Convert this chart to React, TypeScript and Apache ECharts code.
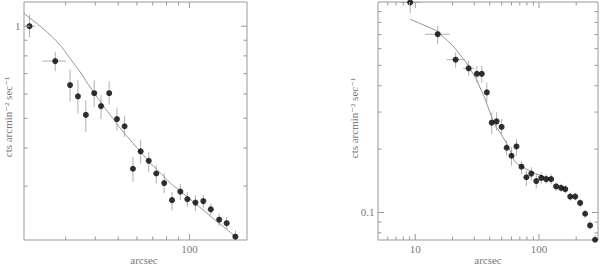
import React, { useEffect, useRef } from "react";
import * as echarts from "echarts";

// ---------- Left panel data ----------
const leftX = [21.1, 27.1, 31.3, 33.8, 36.5, 39.6, 42.3, 45.8, 49.4, 53.2, 57.7, 62.2, 67.3, 72.4, 78.2, 84.4, 91.5, 98.0, 106, 114.4, 123.1, 133.5, 143.6, 156.3];
const leftY = [1.0, 0.769, 0.642, 0.59, 0.513, 0.604, 0.548, 0.604, 0.497, 0.471, 0.342, 0.39, 0.363, 0.33, 0.307, 0.27, 0.288, 0.272, 0.265, 0.268, 0.252, 0.233, 0.227, 0.205];
const leftYLo = [0.92, 0.713, 0.566, 0.518, 0.451, 0.545, 0.497, 0.555, 0.455, 0.435, 0.31, 0.356, 0.334, 0.306, 0.285, 0.25, 0.27, 0.257, 0.249, 0.255, 0.241, 0.222, 0.217, 0.2];
const leftYHi = [1.09, 0.824, 0.722, 0.666, 0.573, 0.666, 0.595, 0.661, 0.542, 0.509, 0.374, 0.424, 0.388, 0.351, 0.331, 0.287, 0.305, 0.287, 0.28, 0.28, 0.263, 0.244, 0.238, 0.215];
const leftXLo: (number | null)[] = [20, 23.9, null, null, null, null, null, null, null, null, null, null, null, null, null, null, null, null, null, null, null, null, null, null];
const leftXHi: (number | null)[] = [22.3, 30.1, null, null, null, null, null, null, null, null, null, null, null, null, null, null, null, null, null, null, null, null, null, null];
const leftModelX = [20, 24.5, 28.4, 31.3, 34.5, 38.0, 42.1, 46.3, 51.1, 56.3, 62.2, 68.6, 75.7, 83.5, 92.0, 101.6, 112, 123.6, 136.3, 154.1, 158];
const leftModelY = [1.1, 0.97, 0.867, 0.784, 0.709, 0.633, 0.566, 0.512, 0.463, 0.424, 0.388, 0.356, 0.33, 0.306, 0.288, 0.27, 0.254, 0.238, 0.224, 0.207, 0.203];

// ---------- Right panel data ----------
const rightX = [9.1, 15.2, 21.2, 27.0, 31.5, 34.5, 37.9, 41.5, 45.5, 49.9, 54.8, 60.0, 65.8, 72.2, 79.1, 86.7, 95.1, 104.3, 114.4, 125.4, 137.5, 150.8, 163.1, 178.9, 196.2, 215.2, 236, 258.8, 284];
const rightY = [0.995, 0.703, 0.532, 0.484, 0.456, 0.456, 0.372, 0.267, 0.271, 0.255, 0.203, 0.186, 0.206, 0.165, 0.147, 0.153, 0.141, 0.146, 0.144, 0.144, 0.133, 0.131, 0.129, 0.119, 0.119, 0.111, 0.0986, 0.0868, 0.0742];
const rightYLo = [0.886, 0.63, 0.488, 0.446, 0.414, 0.414, 0.333, 0.236, 0.245, 0.236, 0.186, 0.167, 0.186, 0.152, 0.134, 0.142, 0.13, 0.137, 0.137, 0.136, 0.127, 0.125, 0.123, 0.114, 0.114, 0.106, 0.094, 0.083, 0.071];
const rightYHi = [1.15, 0.77, 0.575, 0.525, 0.497, 0.497, 0.414, 0.299, 0.299, 0.278, 0.219, 0.204, 0.223, 0.176, 0.158, 0.164, 0.152, 0.155, 0.152, 0.152, 0.139, 0.137, 0.135, 0.124, 0.124, 0.116, 0.103, 0.091, 0.078];
const rightXLo: (number | null)[] = [7.6, 12.0, 17.9, 24.2, null, null, null, null, null, null, null, null, null, null, null, null, null, null, null, null, null, null, null, null, null, null, null, null, null];
const rightXHi: (number | null)[] = [11.0, 19.0, 25.1, 30.2, null, null, null, null, null, null, null, null, null, null, null, null, null, null, null, null, null, null, null, null, null, null, null, null, null];
const rightModelX = [9.12, 14.9, 20.2, 25.9, 31.1, 36.3, 41.1, 45.1, 49.4, 54.2, 59.4, 63.1, 67.0, 78.3, 94.1, 113, 126.3];
const rightModelY = [0.829, 0.73, 0.619, 0.515, 0.43, 0.352, 0.288, 0.254, 0.236, 0.215, 0.193, 0.176, 0.17, 0.161, 0.153, 0.147, 0.144];

// ---------- Ticks ----------
const leftXTicks = [30, 40, 50, 60, 70, 80, 90, 100];
const leftXTickLabels = ["", "", "", "", "", "", "", "100"];
const leftYTicks = [0.3, 0.4, 0.5, 0.6, 0.7, 0.8, 0.9, 1];
const leftYTickLabels = ["", "", "", "", "", "", "", "1"];
const rightXTicks = [6, 7, 8, 9, 10, 20, 30, 40, 50, 60, 70, 80, 90, 100, 200];
const rightXTickLabels = ["", "", "", "", "10", "", "", "", "", "", "", "", "", "100", ""];
const rightYTicks = [0.08, 0.09, 0.1, 0.2, 0.3, 0.4, 0.5, 0.6, 0.7, 0.8, 0.9];
const rightYTickLabels = ["", "", "0.1", "", "", "", "", "", "", "", ""];

const Y_LABEL = "cts arcmin\u207B\u00B2 sec\u207B\u00B9";
const FONT = "'Liberation Serif', 'DejaVu Serif', serif";
const TEXT_COLOR = "#7a7a7a";
const AXIS_COLOR = "#9a9a9a";
const ERR_COLOR = "#b0b0b0";
const CURVE_COLOR = "#959595";

const L = { xMin: 20, xMax: 175, yMin: 0.2, yMax: 1.2 };
const R = { xMin: 5, xMax: 300, yMin: 0.074, yMax: 1 };

function xTickSeries(gi: number, ticks: number[], labels: string[], ext: typeof L) {
  return {
    type: "custom",
    xAxisIndex: gi,
    yAxisIndex: gi,
    clip: false,
    silent: true,
    z: 5,
    data: ticks.map((v) => [v, ext.yMin]),
    renderItem: (params: any, api: any) => {
      const v = api.value(0);
      const lab = labels[params.dataIndex];
      const major = lab !== "" || v === 10 || v === 100;
      const len = major ? 6 : 3.5;
      const b = api.coord([v, ext.yMin]);
      const t = api.coord([v, ext.yMax]);
      const children: any[] = [
        { type: "line", shape: { x1: b[0], y1: b[1], x2: b[0], y2: b[1] - len }, style: { stroke: AXIS_COLOR, lineWidth: 1 } },
        { type: "line", shape: { x1: t[0], y1: t[1], x2: t[0], y2: t[1] + len }, style: { stroke: AXIS_COLOR, lineWidth: 1 } },
      ];
      if (lab) {
        children.push({
          type: "text",
          x: b[0],
          y: b[1] + 9,
          style: { text: lab, fill: TEXT_COLOR, font: `11px ${FONT}`, align: "center", verticalAlign: "middle" },
        });
      }
      return { type: "group", children };
    },
  };
}

function yTickSeries(gi: number, ticks: number[], labels: string[], ext: typeof L) {
  return {
    type: "custom",
    xAxisIndex: gi,
    yAxisIndex: gi,
    clip: false,
    silent: true,
    z: 5,
    data: ticks.map((v) => [ext.xMin, v]),
    renderItem: (params: any, api: any) => {
      const v = api.value(1);
      const lab = labels[params.dataIndex];
      const major = lab !== "" || v === 1 || v === 0.1;
      const len = major ? 6 : 3.5;
      const l = api.coord([ext.xMin, v]);
      const r = api.coord([ext.xMax, v]);
      const children: any[] = [
        { type: "line", shape: { x1: l[0], y1: l[1], x2: l[0] + len, y2: l[1] }, style: { stroke: AXIS_COLOR, lineWidth: 1 } },
        { type: "line", shape: { x1: r[0], y1: r[1], x2: r[0] - len, y2: r[1] }, style: { stroke: AXIS_COLOR, lineWidth: 1 } },
      ];
      if (lab) {
        children.push({
          type: "text",
          x: l[0] - 3.5,
          y: l[1],
          style: { text: lab, fill: TEXT_COLOR, font: `11px ${FONT}`, align: "right", verticalAlign: "middle" },
        });
      }
      return { type: "group", children };
    },
  };
}

function errSeries(gi: number, xs: number[], ys: number[], ylo: number[], yhi: number[], xlo: (number | null)[], xhi: (number | null)[]) {
  return {
    type: "custom",
    xAxisIndex: gi,
    yAxisIndex: gi,
    clip: true,
    silent: true,
    z: 2,
    data: xs.map((x, i) => [x, ys[i]]),
    renderItem: (params: any, api: any) => {
      const i = params.dataIndex;
      const x = api.value(0);
      const y = api.value(1);
      const a = api.coord([x, ylo[i]]);
      const b = api.coord([x, yhi[i]]);
      const children: any[] = [
        { type: "line", shape: { x1: a[0], y1: a[1], x2: b[0], y2: b[1] }, style: { stroke: ERR_COLOR, lineWidth: 1 } },
      ];
      const lo = xlo[i];
      const hi = xhi[i];
      if (lo != null && hi != null) {
        const c = api.coord([lo, y]);
        const d = api.coord([hi, y]);
        children.push({ type: "line", shape: { x1: c[0], y1: c[1], x2: d[0], y2: d[1] }, style: { stroke: ERR_COLOR, lineWidth: 1 } });
      }
      return { type: "group", children };
    },
  };
}

function makeAxis(gi: number, min: number, max: number) {
  return {
    gridIndex: gi,
    type: "log",
    logBase: 10,
    min,
    max,
    axisLine: { show: false },
    axisTick: { show: false },
    axisLabel: { show: false },
    splitLine: { show: false },
    minorTick: { show: false },
  };
}

export default function App() {
  const ref = useRef<HTMLDivElement>(null);
  useEffect(() => {
    if (!ref.current) return;
    const chart = echarts.init(ref.current, null, { renderer: "svg" });
    const option: any = {
      animation: false,
      backgroundColor: "#ffffff",
      grid: [
        { left: 24, top: 2, width: 223, height: 238, show: true, borderColor: AXIS_COLOR, borderWidth: 1, backgroundColor: "transparent" },
        { left: 378, top: 2, width: 220, height: 238, show: true, borderColor: AXIS_COLOR, borderWidth: 1, backgroundColor: "transparent" },
      ],
      xAxis: [makeAxis(0, L.xMin, L.xMax), makeAxis(1, R.xMin, R.xMax)],
      yAxis: [makeAxis(0, L.yMin, L.yMax), makeAxis(1, R.yMin, R.yMax)],
      graphic: [
        { type: "text", x: 144, y: 260, style: { text: "arcsec", fill: TEXT_COLOR, font: `11px ${FONT}`, align: "center", verticalAlign: "middle" } },
        { type: "text", x: 488, y: 260, style: { text: "arcsec", fill: TEXT_COLOR, font: `11px ${FONT}`, align: "center", verticalAlign: "middle" } },
        { type: "text", x: 8, y: 117, rotation: Math.PI / 2, style: { text: Y_LABEL, fill: TEXT_COLOR, font: `11px ${FONT}`, align: "center", verticalAlign: "middle" } },
        { type: "text", x: 354, y: 118, rotation: Math.PI / 2, style: { text: Y_LABEL, fill: TEXT_COLOR, font: `11px ${FONT}`, align: "center", verticalAlign: "middle" } },
      ],
      series: [
        xTickSeries(0, leftXTicks, leftXTickLabels, L),
        yTickSeries(0, leftYTicks, leftYTickLabels, L),
        xTickSeries(1, rightXTicks, rightXTickLabels, R),
        yTickSeries(1, rightYTicks, rightYTickLabels, R),
        errSeries(0, leftX, leftY, leftYLo, leftYHi, leftXLo, leftXHi),
        errSeries(1, rightX, rightY, rightYLo, rightYHi, rightXLo, rightXHi),
        {
          type: "line",
          xAxisIndex: 0,
          yAxisIndex: 0,
          data: leftModelX.map((x, i) => [x, leftModelY[i]]),
          showSymbol: false,
          smooth: 0.5,
          clip: true,
          silent: true,
          z: 3,
          lineStyle: { color: CURVE_COLOR, width: 1 },
        },
        {
          type: "line",
          xAxisIndex: 1,
          yAxisIndex: 1,
          data: rightModelX.map((x, i) => [x, rightModelY[i]]),
          showSymbol: false,
          smooth: false,
          clip: true,
          silent: true,
          z: 3,
          lineStyle: { color: CURVE_COLOR, width: 1 },
        },
        {
          type: "scatter",
          xAxisIndex: 0,
          yAxisIndex: 0,
          data: leftX.map((x, i) => [x, leftY[i]]),
          symbolSize: 6,
          clip: true,
          silent: true,
          z: 4,
          itemStyle: { color: "#000000" },
        },
        {
          type: "scatter",
          xAxisIndex: 1,
          yAxisIndex: 1,
          data: rightX.map((x, i) => [x, rightY[i]]),
          symbolSize: 6,
          clip: true,
          silent: true,
          z: 4,
          itemStyle: { color: "#000000" },
        },
      ],
    };
    chart.setOption(option);
    return () => chart.dispose();
  }, []);
  return <div ref={ref} style={{ position: "fixed", left: 0, top: 0, width: 600, height: 265 }} />;
}
